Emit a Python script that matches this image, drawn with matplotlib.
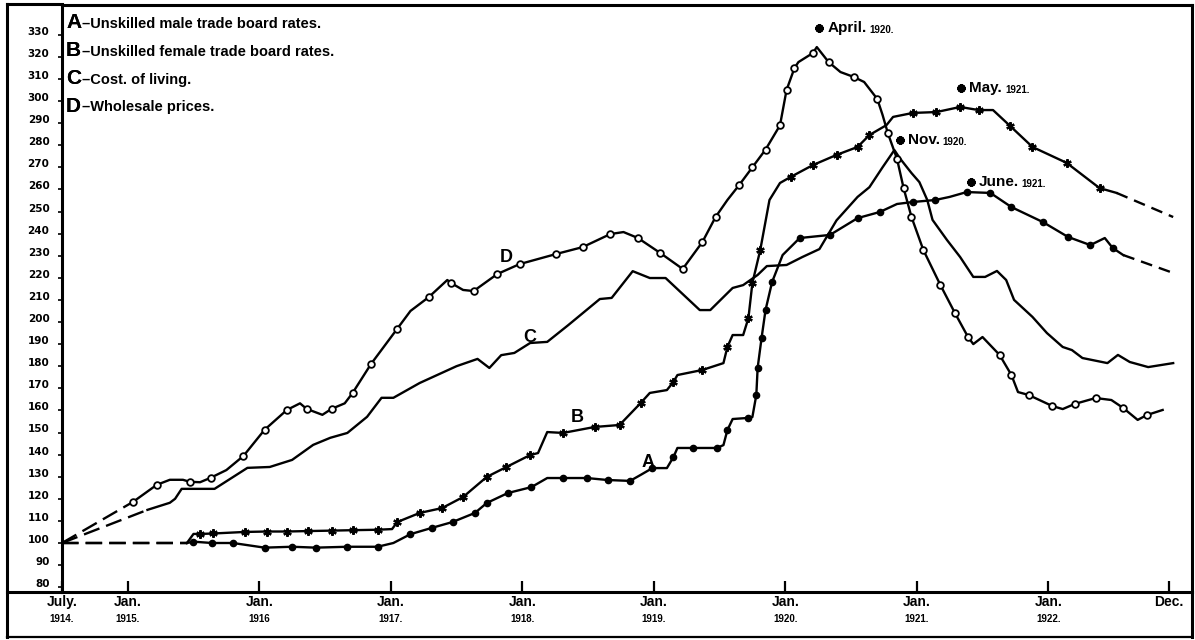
import matplotlib
matplotlib.use("Agg")
import matplotlib.pyplot as plt
from matplotlib.transforms import ScaledTranslation
from matplotlib.lines import Line2D

plt.rcParams['font.family'] = ['Liberation Sans', 'DejaVu Sans']

# ---------------- data (fractional year, index July 1914 = 100) ----------------
D_t = [1914.50, 1915.04, 1915.22, 1915.32, 1915.42, 1915.47, 1915.55, 1915.63, 1915.75, 1915.88,
       1916.04, 1916.21, 1916.31, 1916.36, 1916.48, 1916.55, 1916.65, 1916.71, 1916.85, 1916.95,
       1917.05, 1917.15, 1917.29, 1917.43, 1917.46, 1917.55, 1917.63, 1917.81, 1917.98, 1918.12,
       1918.26, 1918.46, 1918.67, 1918.77, 1918.88, 1919.05, 1919.22, 1919.37, 1919.47, 1919.56,
       1919.65, 1919.75, 1919.85, 1919.96, 1920.01, 1920.07, 1920.10, 1920.21, 1920.24, 1920.33,
       1920.42, 1920.52, 1920.60, 1920.70, 1920.74, 1920.78, 1920.85, 1920.90, 1920.96, 1921.05,
       1921.18, 1921.29, 1921.39, 1921.43, 1921.50, 1921.63, 1921.72, 1921.77, 1921.85, 1922.03,
       1922.11, 1922.20, 1922.36, 1922.48, 1922.57, 1922.68, 1922.75, 1922.87]
D_v = [100.0, 118.6, 126.3, 128.6, 128.6, 127.7, 127.5, 129.5, 133.0, 139.4,
       151.2, 160.2, 163.2, 160.7, 158.0, 160.7, 163.2, 167.9, 181.0, 189.0,
       197.0, 205.0, 211.3, 219.0, 217.6, 214.5, 214.0, 221.7, 226.2, 228.5,
       230.8, 233.9, 239.8, 240.7, 238.0, 231.2, 224.0, 236.2, 247.5, 255.2,
       262.0, 270.0, 278.0, 289.0, 305.0, 314.9, 317.6, 321.7, 324.4, 317.6,
       313.1, 310.9, 308.6, 300.9, 293.7, 285.5, 273.8, 260.6, 247.5, 232.6,
       216.7, 204.1, 193.2, 190.0, 193.2, 185.1, 176.0, 168.3, 167.0, 162.0,
       160.6, 162.9, 165.6, 164.7, 161.1, 155.7, 157.9, 160.2]
D_mark = [0, 1, 1, 0, 0, 1, 0, 1, 0, 1,
          1, 1, 0, 1, 0, 1, 0, 1, 1, 0,
          1, 0, 1, 0, 1, 0, 1, 1, 1, 0,
          1, 1, 1, 0, 1, 1, 1, 1, 1, 0,
          1, 1, 1, 1, 1, 1, 0, 1, 0, 1,
          0, 1, 0, 1, 0, 1, 1, 1, 1, 1,
          1, 1, 1, 0, 0, 1, 1, 0, 1, 1,
          0, 1, 1, 0, 1, 0, 1, 0]

C_t = [1914.50, 1915.15, 1915.32, 1915.36, 1915.41, 1915.66, 1915.91, 1916.08, 1916.25, 1916.41,
       1916.54, 1916.67, 1916.82, 1916.93, 1917.02, 1917.22, 1917.50, 1917.66, 1917.75, 1917.84,
       1917.94, 1918.06, 1918.19, 1918.35, 1918.59, 1918.68, 1918.84, 1918.97, 1919.09, 1919.35,
       1919.43, 1919.60, 1919.68, 1919.79, 1919.86, 1920.01, 1920.13, 1920.26, 1920.39, 1920.55,
       1920.64, 1920.74, 1920.83, 1920.87, 1920.96, 1921.02, 1921.08, 1921.12, 1921.23, 1921.33,
       1921.43, 1921.52, 1921.61, 1921.68, 1921.74, 1921.88, 1921.99, 1922.11, 1922.18, 1922.26,
       1922.45, 1922.53, 1922.62, 1922.76, 1922.95]
C_v = [100.0, 115.0, 118.2, 120.0, 124.5, 124.5, 134.0, 134.4, 137.6, 144.4,
       147.6, 149.8, 157.1, 165.7, 165.7, 172.4, 180.0, 183.3, 179.2, 185.0,
       186.0, 190.5, 191.0, 198.6, 210.4, 210.9, 223.0, 219.9, 219.9, 205.4,
       205.4, 215.4, 216.7, 221.3, 225.3, 225.8, 229.4, 233.0, 246.0, 256.6,
       261.0, 270.0, 277.8, 274.2, 267.4, 263.3, 255.2, 246.2, 237.1, 229.4,
       220.4, 220.4, 223.1, 219.0, 210.0, 202.3, 195.0, 188.7, 187.3, 183.7,
       181.4, 185.1, 181.9, 179.6, 181.4]

B_t = [1914.50, 1915.45, 1915.50, 1915.55, 1915.65, 1915.89, 1916.06, 1916.21, 1916.37, 1916.55,
       1916.71, 1916.90, 1917.01, 1917.05, 1917.22, 1917.39, 1917.55, 1917.73, 1917.88, 1918.06,
       1918.12, 1918.19, 1918.31, 1918.55, 1918.74, 1918.90, 1918.97, 1919.10, 1919.15, 1919.18,
       1919.37, 1919.53, 1919.56, 1919.60, 1919.68, 1919.72, 1919.75, 1919.81, 1919.88, 1919.96,
       1920.04, 1920.21, 1920.39, 1920.55, 1920.64, 1920.77, 1920.82, 1920.97, 1921.15, 1921.33,
       1921.47, 1921.58, 1921.71, 1921.88, 1922.14, 1922.39, 1922.52, 1922.95]
B_v = [100.0, 100.0, 104.1, 104.1, 104.3, 105.0, 105.2, 105.2, 105.4, 105.6,
       105.8, 106.0, 106.3, 109.5, 113.6, 115.8, 120.8, 129.9, 134.4, 139.8,
       140.7, 150.2, 149.8, 152.5, 153.4, 163.3, 167.9, 169.2, 172.9, 176.0,
       178.3, 181.4, 188.7, 194.1, 194.1, 201.8, 217.6, 232.6, 255.2, 262.9,
       265.6, 271.0, 275.6, 279.2, 284.6, 289.1, 292.8, 294.6, 295.0, 297.3,
       295.9, 295.9, 288.7, 279.2, 272.0, 260.6, 258.4, 247.5]
B_mark = [0, 0, 0, 1, 1, 1, 1, 1, 1, 1,
          1, 1, 0, 1, 1, 1, 1, 1, 1, 1,
          0, 0, 1, 1, 1, 1, 0, 0, 1, 0,
          1, 0, 1, 0, 0, 1, 1, 1, 0, 0,
          1, 1, 1, 1, 1, 0, 0, 1, 1, 1,
          1, 0, 1, 1, 1, 1, 0, 0]

A_t = [1914.50, 1915.45, 1915.50, 1915.64, 1915.80, 1916.04, 1916.25, 1916.43, 1916.67, 1916.90,
       1917.02, 1917.15, 1917.31, 1917.47, 1917.64, 1917.73, 1917.89, 1918.07, 1918.19, 1918.31,
       1918.49, 1918.65, 1918.82, 1918.90, 1918.99, 1919.10, 1919.15, 1919.18, 1919.30, 1919.48,
       1919.53, 1919.56, 1919.60, 1919.72, 1919.75, 1919.78, 1919.79, 1919.82, 1919.85, 1919.90,
       1919.98, 1920.11, 1920.34, 1920.55, 1920.72, 1920.85, 1920.97, 1921.14, 1921.25, 1921.38,
       1921.56, 1921.72, 1921.96, 1922.15, 1922.32, 1922.43, 1922.49, 1922.57, 1922.95]
A_v = [100.0, 100.0, 100.6, 100.0, 100.0, 97.9, 98.3, 97.9, 98.3, 98.3,
       100.0, 104.0, 106.8, 109.5, 113.6, 118.1, 122.6, 125.3, 129.4, 129.4,
       129.4, 128.5, 128.1, 130.8, 133.9, 133.9, 138.9, 143.0, 143.0, 143.0,
       144.3, 151.1, 156.1, 156.6, 157.0, 167.0, 179.2, 192.8, 205.4, 218.1,
       230.3, 238.0, 239.4, 247.0, 249.8, 253.4, 254.3, 255.2, 256.6, 258.8,
       258.4, 252.0, 245.2, 238.5, 234.8, 238.0, 233.5, 230.3, 222.2]
A_mark = [0, 0, 1, 1, 1, 1, 1, 1, 1, 1,
          0, 1, 1, 1, 1, 1, 1, 1, 0, 1,
          1, 1, 1, 0, 1, 0, 1, 0, 1, 1,
          0, 1, 0, 1, 0, 1, 1, 1, 1, 1,
          0, 1, 1, 1, 1, 0, 1, 1, 0, 1,
          1, 1, 1, 1, 1, 0, 1, 0, 0]

# index where the leading dashed part ends / where the trailing dashed part starts
D_dash_start = 1
C_dash_start = 1
B_dash_start = 1
A_dash_start = 1
B_dash_end = 56
A_dash_end = 57

y_ticks = list(range(80, 340, 10))
x_tick_pos = [1914.5, 1915, 1916, 1917, 1918, 1919, 1920, 1921, 1922, 1922 + 11 / 12]
x_tick_top = ["July.", "Jan.", "Jan.", "Jan.", "Jan.", "Jan.", "Jan.", "Jan.", "Jan.", "Dec."]
x_tick_bot = ["1914.", "1915.", "1916", "1917.", "1918.", "1919.", "1920.", "1921.", "1922.", ""]

legend_letters = ["A", "B", "C", "D"]
legend_texts = ["\u2013Unskilled male trade board rates.",
                "\u2013Unskilled female trade board rates.",
                "\u2013Cost. of living.",
                "\u2013Wholesale prices."]

curve_labels = ["D", "C", "B", "A"]
curve_label_t = [1917.88, 1918.06, 1918.42, 1918.96]
curve_label_v = [229.0, 193.0, 157.0, 136.5]

peak_names = ["April.", "Nov.", "May.", "June."]
peak_years = ["1920.", "1920.", "1921.", "1921."]
peak_t = [1920.26, 1920.87, 1921.34, 1921.41]
peak_v = [333.0, 282.4, 305.9, 263.3]

# ---------------- figure ----------------
W, H = 1195, 640
fig = plt.figure(figsize=(W / 100, H / 100), dpi=100)
ax_l, ax_r, ax_b, ax_t = 62, 1192, 592, 5
ax = fig.add_axes([ax_l / W, 1 - ax_b / H, (ax_r - ax_l) / W, (ax_b - ax_t) / H])
ax.set_xlim(1914.5, 1914.5 + (ax_r - ax_l) / 131.5)
ax.set_ylim(100 + (543 - ax_b) / 2.21, 100 + (543 - ax_t) / 2.21)

LW = 1.7
K = 'black'


def draw(t, v, start, end=None, marker=None, mark=None, ms=4.5, mfc=K, mew=1.0):
    n = len(t)
    end = n - 1 if end is None else end
    ax.plot(t[:start + 1], v[:start + 1], color=K, lw=LW, ls=(0, (7, 3)), solid_capstyle='butt')
    ax.plot(t[start:end + 1], v[start:end + 1], color=K, lw=LW, solid_joinstyle='round')
    if end < n - 1:
        ax.plot(t[end:], v[end:], color=K, lw=LW, ls=(0, (5, 3)))
    if marker is not None:
        mt = [t[i] for i in range(n) if mark[i]]
        mv = [v[i] for i in range(n) if mark[i]]
        ax.plot(mt, mv, ls='none', marker=marker, ms=ms, mfc=mfc, mec=K, mew=mew, zorder=5)


draw(D_t, D_v, D_dash_start, marker='o', mark=D_mark, ms=4.8, mfc='white', mew=1.3)
draw(C_t, C_v, C_dash_start)
draw(B_t, B_v, B_dash_start, B_dash_end, marker=(6, 2, 0), mark=B_mark, ms=6, mew=1.6)
draw(A_t, A_v, A_dash_start, A_dash_end, marker='o', mark=A_mark, ms=4.5)

for s in ax.spines.values():
    s.set_linewidth(2.2)
ax.set_facecolor('white')

# y ticks
ax.set_yticks(y_ticks)
ax.set_yticklabels([str(v) for v in y_ticks], fontsize=7.5, fontweight='bold',
                   family=['DejaVu Sans'])
ax.tick_params(axis='y', length=3, width=1.2, direction='out', pad=6)
off = ScaledTranslation(0, 4 / 100, fig.dpi_scale_trans)
for lab in ax.get_yticklabels():
    lab.set_transform(lab.get_transform() + off)

# x ticks
ax.set_xticks(x_tick_pos)
ax.set_xticklabels([])
ax.tick_params(axis='x', length=8, width=1.6, direction='in')
xtr = ax.get_xaxis_transform()
for p, top, bot in zip(x_tick_pos, x_tick_top, x_tick_bot):
    ax.text(p, -10 / (ax_b - ax_t), top, transform=xtr, ha='center', va='center',
            fontsize=10, fontweight='bold', clip_on=False)
    ax.text(p, -27 / (ax_b - ax_t), bot, transform=xtr, ha='center', va='center',
            fontsize=7, fontweight='bold', clip_on=False)


def px_line(x0, y0, x1, y1, lw=2.2):
    fig.add_artist(Line2D([x0 / W, x1 / W], [1 - y0 / H, 1 - y1 / H], color=K, lw=lw,
                          transform=fig.transFigure, solid_capstyle='projecting'))


px_line(7, 4, 62, 4)
px_line(7, 4, 7, 637)
px_line(7, 637, 1192, 637, lw=1.6)
px_line(1192, 592, 1192, 637)
px_line(7, 592, 62, 592)

# legend text
rows_y = [23, 51, 79, 106]
for yy, let, txt in zip(rows_y, legend_letters, legend_texts):
    lt = fig.text(66 / W, 1 - yy / H, let, fontsize=15, fontweight='bold', va='center', ha='left')
    fig.add_artist(lt)
    ann = plt.annotate(txt, xy=(1, 0.45), xycoords=lt, xytext=(1, 0), textcoords='offset pixels',
                       fontsize=10.5, fontweight='bold', va='center', ha='left',
                       annotation_clip=False)

# curve labels
for lab, tt, vv in zip(curve_labels, curve_label_t, curve_label_v):
    ax.text(tt, vv, lab, fontsize=13, fontweight='bold', ha='center', va='center')

# peak annotations
for name, yr, tt, vv in zip(peak_names, peak_years, peak_t, peak_v):
    ax.plot([tt], [vv], ls='none', marker=(8, 2, 0), ms=6, mec=K, mew=1.8)
    t1 = ax.annotate(name, (tt, vv), xytext=(8, 0), textcoords='offset pixels',
                     fontsize=11, fontweight='bold', va='center', ha='left')
    ax.annotate(yr, xy=(1, 0.35), xycoords=t1, xytext=(3, 0), textcoords='offset pixels',
                fontsize=7, fontweight='bold', va='center', ha='left', annotation_clip=False)

fig.savefig("out.png", dpi=100, facecolor='white')
